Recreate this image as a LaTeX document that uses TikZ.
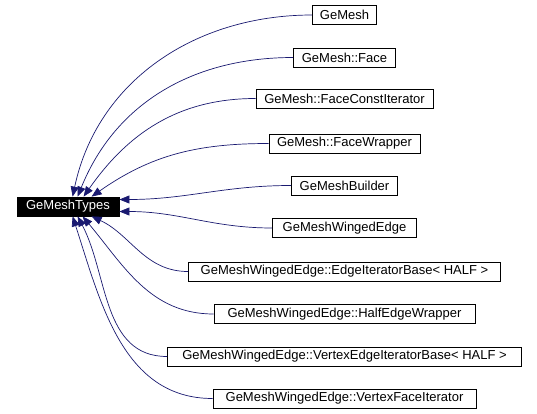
\documentclass[tikz,border=0pt]{standalone}
\usepackage{fontspec}
\setmainfont{Liberation Sans}
\usetikzlibrary{arrows.meta}
\definecolor{edgeblue}{HTML}{191970}

\begin{document}
\begin{tikzpicture}[x=1pt, y=-1pt,
    cls/.style={draw=black, line width=0.8pt, fill=white, minimum height=19pt, inner sep=0pt, font=\fontsize{13}{15}\selectfont},
    edge/.style={draw=edgeblue, line width=0.7pt, -{Triangle[length=10pt,width=8pt]}}]
    \useasboundingbox (0,0) rectangle (537,414);

    % Base class
    \node[cls, fill=black, text=white, minimum width=102pt] (types) at (68,206.5) {GeMeshTypes};

    % Derived classes
    \node[cls, minimum width=64pt]  (gemesh)  at (344.5,15)    {GeMesh};
    \node[cls, minimum width=102pt] (face)    at (344.5,57.5)  {GeMesh::Face};
    \node[cls, minimum width=177pt] (fci)     at (344.5,98.5)  {GeMesh::FaceConstIterator};
    \node[cls, minimum width=151pt] (fw)      at (344.5,143.5) {GeMesh::FaceWrapper};
    \node[cls, minimum width=106pt] (builder) at (344.5,185.5) {GeMeshBuilder};
    \node[cls, minimum width=144pt] (winged)  at (344.5,228)   {GeMeshWingedEdge};
    \node[cls, minimum width=312pt] (eib)     at (344.5,271.5) {GeMeshWingedEdge::EdgeIteratorBase< HALF >};
    \node[cls, minimum width=261pt] (hew)     at (344.5,314)   {GeMeshWingedEdge::HalfEdgeWrapper};
    \node[cls, minimum width=354pt] (veib)    at (344.5,356.5) {GeMeshWingedEdge::VertexEdgeIteratorBase< HALF >};
    \node[cls, minimum width=263pt] (vfi)     at (344.5,398.5) {GeMeshWingedEdge::VertexFaceIterator};

    % Edges into the top of the base class
    \foreach \child/\dx/\inang in {gemesh/56/78, face/61/68, fci/67/55, fw/75/35} {
        \draw[edge] (\child.west) to[out=180, in=\inang] ([xshift=\dx pt]types.north west);
    }

    % Edges into the right side
    \draw[edge] (builder.west) to[out=180, in=0] ([yshift=7pt]types.east);
    \draw[edge] (winged.west) to[out=180, in=0] ([yshift=-5pt]types.east);

    % Edges into the bottom
    \foreach \child/\dx/\inang in {eib/75/-25, hew/66/-50, veib/61/-62, vfi/56/-72} {
        \draw[edge] (\child.west) to[out=180, in=\inang] ([xshift=\dx pt]types.south west);
    }
\end{tikzpicture}
\end{document}
